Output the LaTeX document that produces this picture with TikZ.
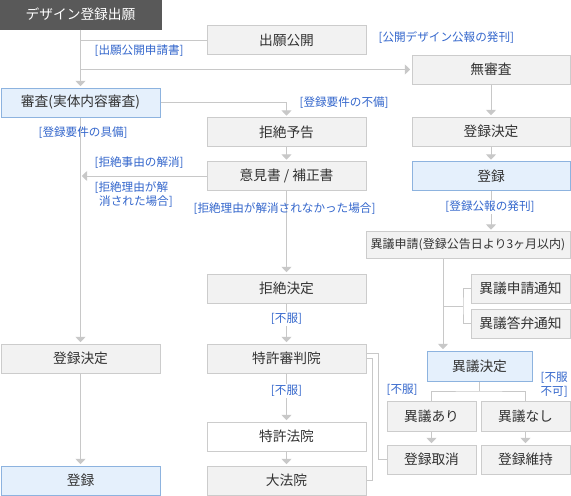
\documentclass[tikz,border=0pt]{standalone}
\usepackage{fontspec}
\setmainfont{Noto Sans CJK JP}
\usetikzlibrary{arrows.meta,calc}
\definecolor{linecol}{HTML}{C8C8C8}
\definecolor{boxfill}{HTML}{F2F2F2}
\definecolor{boxline}{HTML}{CCCCCC}
\definecolor{bluefill}{HTML}{E5F0FC}
\definecolor{blueline}{HTML}{8DB3DF}
\definecolor{darkfill}{HTML}{595959}
\definecolor{lblcol}{HTML}{3366CC}
\definecolor{txtcol}{HTML}{333333}

\begin{document}
\begin{tikzpicture}[x=0.75pt,y=-0.75pt,
  font=\fontsize{10.3}{12}\selectfont,
  box/.style={draw=boxline, fill=boxfill, text=txtcol, line width=0.75pt,
    minimum width=#1*0.75pt, minimum height=29*0.75pt, inner sep=0pt},
  box/.default=159,
  bluebox/.style={box=#1, draw=blueline, fill=bluefill},
  bluebox/.default=159,
  darkbox/.style={box=161, draw=darkfill, fill=darkfill, text=white},
  lbl/.style={text=lblcol, font=\fontsize{8.7}{10.5}\selectfont, inner sep=1pt},
  conn/.style={draw=linecol, line width=0.75pt},
  arr/.style={conn, -{Triangle[width=7.5pt,length=4pt]}, shorten >=1pt}]
\fill[white] (0,0) rectangle (571,496);
\useasboundingbox (0,0) rectangle (571,496);
% left column: application and examination
\node[darkbox] (apply) at (80.5,14.5) {デザイン登録出願};
\node[bluebox] (exam) at (80.5,102.5) {審査(実体内容審査)};
\node[box] (regdecB) at (80.5,358.5) {登録決定};
\node[bluebox] (regB) at (80.5,480.5) {登録};
% middle column: publication, rejection and appeal
\node[box] (pub) at (286.5,40) {出願公開};
\node[box] (notice) at (286.5,132) {拒絶予告};
\node[box] (opinion) at (286.5,176) {意見書 / 補正書};
\node[box] (reject) at (286.5,288.5) {拒絶決定};
\node[box] (trial) at (286.5,358.5) {特許審判院};
\node[box, fill=white] (court) at (286.5,436.5) {特許法院};
\node[box] (supreme) at (286.5,480.5) {大法院};
% right column: non-examination and opposition
\node[box=158] (noexam) at (491,69.5) {無審査};
\node[box=158] (regdecA) at (491,131.5) {登録決定};
\node[bluebox=158] (regA) at (491,176) {登録};
\node[box=204, minimum height=27*0.75pt, font=\fontsize{9}{11}\selectfont] (oppapp) at (468,245) {異議申請(登録公告日より3ヶ月以内)};
\node[box=99] (oppnote) at (520.5,288.5) {異議申請通知};
\node[box=99] (oppans) at (520.5,323.5) {異議答弁通知};
\node[bluebox=105, minimum height=30*0.75pt] (oppdec) at (479.5,366) {異議決定};
\node[box=89, minimum height=30*0.75pt] (oppyes) at (431.5,416) {異議あり};
\node[box=89, minimum height=30*0.75pt] (oppno) at (525.5,416) {異議なし};
\node[box=89] (cancel) at (431.5,459.5) {登録取消};
\node[box=89] (keep) at (525.5,459.5) {登録維持};
% spine from the application
\draw[arr] (apply.south) -- (exam.north);
\draw[conn] (apply.south |- pub.west) -- (pub.west);
\draw[arr] (apply.south |- noexam.west) -- (noexam.west);
\draw[arr] (exam.east) -| (notice.north);
\draw[arr] (exam.south) -- (regdecB.north);
\draw[arr] (opinion.west) -- (exam.south |- opinion.west);
% straight steps down
\foreach \a/\b in {notice/opinion,opinion/reject,reject/trial,trial/court,court/supreme,regdecB/regB,noexam/regdecA,regdecA/regA,oppyes/cancel,oppno/keep}
  \draw[arr] (\a.south) -- (\b.north);
\draw[arr] (regA.south) -- (regA.south |- oppapp.north);
% appeal brackets
\coordinate (tA) at (378,353);
\coordinate (tB) at (372,358.5);
\draw[conn] (trial.east |- tA) -- (tA) |- (cancel.west);
\draw[conn] (trial.east) -- (tB) |- (supreme.east);
% opposition branch
\coordinate (oA) at (443,306);
\coordinate (oB) at (463,306);
\draw[arr] (oA |- oppapp.south) -- (oA |- oppdec.north);
\draw[conn] (oA) -- (oB);
\draw[conn] (oppnote.west) -| (oB) |- (oppans.west);
\coordinate (dA) at (479.5,391);
\draw[conn] (oppdec.south) -- (dA);
\draw[conn] (oppyes.north) |- (dA) -| (oppno.north);
% labels
\node[lbl, anchor=west] (lPubReq) at (93,51) {[出願公開申請書]};
\node[lbl, anchor=west] (lPubGaz) at (377,38) {[公開デザイン公報の発刊]};
\node[lbl, anchor=west] (lLack) at (298,103) {[登録要件の不備]};
\node[lbl, anchor=west] (lMeet) at (37,133) {[登録要件の具備]};
\node[lbl, anchor=west] (lSolved) at (93,163) {[拒絶事由の解消]};
\node[lbl, anchor=west, align=left] (lCleared) at (93,195) {[拒絶理由が解\\\hspace{0.4em}消された場合]};
\node[lbl, anchor=west] (lNotCleared) at (192,209) {[拒絶理由が解消されなかった場合]};
\node[lbl, fill=white] (lRegGaz) at (490,207) {[登録公報の発刊]};
\node[lbl, fill=white] (lObjA) at (286.5,319) {[不服]};
\node[lbl, fill=white] (lObjB) at (286.5,391) {[不服]};
\node[lbl, anchor=west] (lObjC) at (385,390) {[不服]};
\node[lbl, anchor=west, align=left] (lObjD) at (539,384.5) {[不服\\不可]};
\end{tikzpicture}
\end{document}
